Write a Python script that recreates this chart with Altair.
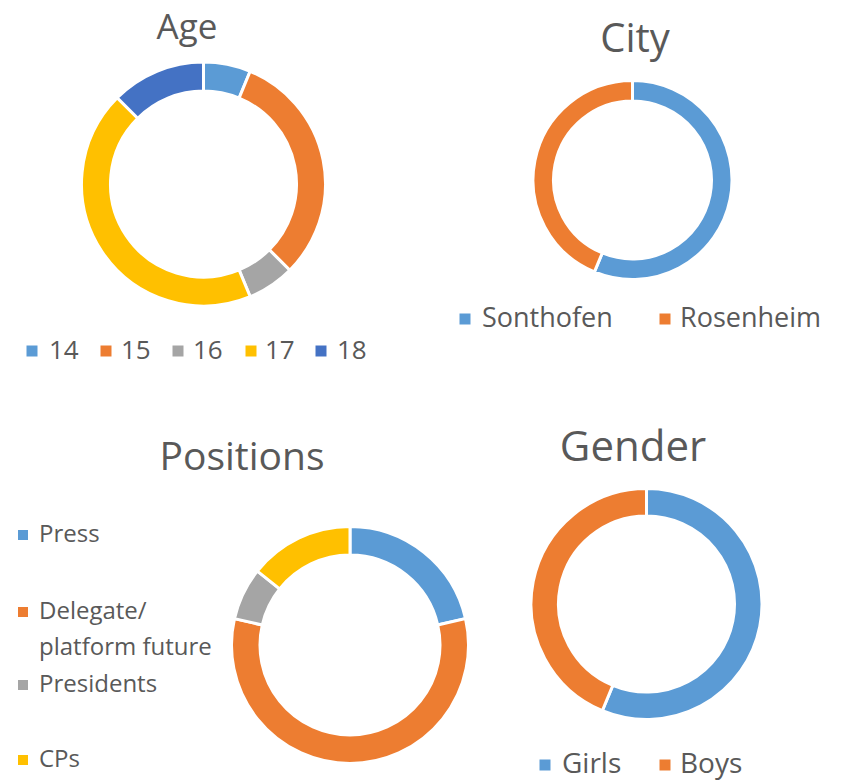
import altair as alt
import pandas as pd

# ---- data ----
age_cats = ["14", "15", "16", "17", "18"]
age_vals = [2, 10, 2, 14, 4]
age_colors = ["#5B9BD5", "#ED7D31", "#A5A5A5", "#FFC000", "#4472C4"]

city_cats = ["Sonthofen", "Rosenheim"]
city_vals = [18, 14]
city_colors = ["#5B9BD5", "#ED7D31"]

pos_cats = ["Press", "Delegate/\nplatform future", "Presidents", "CPs"]
pos_vals = [6, 16, 2, 4]
pos_colors = ["#5B9BD5", "#ED7D31", "#A5A5A5", "#FFC000"]

gender_cats = ["Girls", "Boys"]
gender_vals = [18, 14]
gender_colors = ["#5B9BD5", "#ED7D31"]

titles = ["Age", "City", "Positions", "Gender"]

FONT = "Open Sans"
TEXT = "#595959"


def donut(cats, vals, colors, cx, cy, r_out, r_in):
    df = pd.DataFrame({"cat": cats, "val": vals, "color": colors,
                       "idx": list(range(len(cats)))})
    return alt.Chart(df).mark_arc(
        stroke="white", strokeWidth=3, radius=r_out, radius2=r_in
    ).encode(
        theta=alt.Theta("val:Q", stack=True),
        order=alt.Order("idx:Q"),
        color=alt.Color("color:N", scale=None),
        x=alt.value(cx), y=alt.value(cy),
    )


def text(label, x, y, size, align="center", baseline="alphabetic", line_height=None):
    kw = dict(font=FONT, fontSize=size, color=TEXT, align=align, baseline=baseline)
    if line_height is not None:
        kw["lineBreak"] = "\n"
        kw["lineHeight"] = line_height
    return alt.Chart(pd.DataFrame({"t": [label]})).mark_text(**kw).encode(
        text="t:N", x=alt.value(x), y=alt.value(y))


def square(color, x, y, s):
    return alt.Chart(pd.DataFrame({"c": [color]})).mark_square(
        size=s * s, opacity=1, filled=True
    ).encode(color=alt.Color("c:N", scale=None), x=alt.value(x), y=alt.value(y))


def legend_item(label, color, sx, tx, y, size, sq=11, line_height=None):
    return [square(color, sx, y, sq),
            text(label, tx, y, size, align="left", baseline="middle",
                 line_height=line_height)]


layers = []
# donuts
layers.append(donut(age_cats, age_vals, age_colors, 203.5, 184, 122, 93))
layers.append(donut(city_cats, city_vals, city_colors, 632.5, 180, 99.5, 79))
layers.append(donut(pos_cats, pos_vals, pos_colors, 350, 645, 118.5, 90))
layers.append(donut(gender_cats, gender_vals, gender_colors, 646.5, 604, 115.5, 88))

# titles
layers.append(text(titles[0], 187, 39, 35))
layers.append(text(titles[1], 635, 52, 40))
layers.append(text(titles[2], 242, 470, 39))
layers.append(text(titles[3], 633, 461, 42))

# Age legend
age_sq_x = [32, 106, 178, 251, 321]
age_tx_x = [49, 121, 193, 265, 337]
for c, col, sx, tx in zip(age_cats, age_colors, age_sq_x, age_tx_x):
    layers += legend_item(c, col, sx, tx, 351, 26)

# City legend
for c, col, sx, tx in zip(city_cats, city_colors, [465, 665], [482, 680]):
    layers += legend_item(c, col, sx, tx, 319, 27)

# Positions legend
pos_y = [535, 612, 685, 760]
for c, col, y in zip(pos_cats, pos_colors, pos_y):
    lh = 36 if "\n" in c else None
    layers += legend_item(c, col, 23, 39, y, 24, sq=10, line_height=lh)

# Gender legend
for c, col, sx, tx in zip(gender_cats, gender_colors, [545, 665], [562, 680]):
    layers += legend_item(c, col, sx, tx, 765, 28)

chart = alt.layer(*layers).resolve_scale(
    theta="independent"
).properties(
    width=841, height=781, autosize="none", padding=0
).configure_view(stroke=None)

chart.save("out.html", embed_options={"renderer": "svg", "actions": False})
